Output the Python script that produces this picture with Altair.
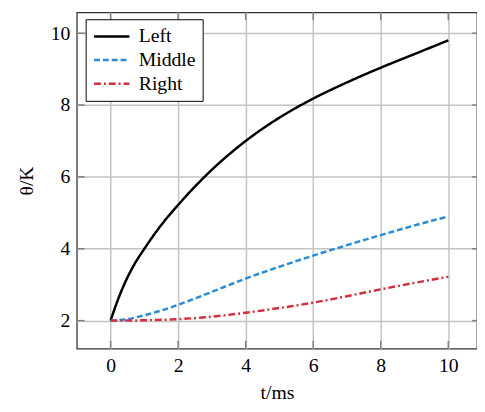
import altair as alt
import pandas as pd

# ---- data ----
series_names = ["Left", "Middle", "Right"]
t_left = [0, 0.2, 0.4, 0.7, 1, 1.5, 2, 3, 4, 5, 6, 7, 8, 9, 10]
left = [2, 2.54, 3.0, 3.56, 4.0, 4.66, 5.22, 6.2, 7.0, 7.65, 8.18, 8.63, 9.04, 9.42, 9.8]
t_mid = [0, 0.5, 1, 1.5, 2, 3, 4, 5, 6, 7, 8, 9, 10]
middle = [2, 2.04, 2.15, 2.28, 2.44, 2.8, 3.17, 3.5, 3.81, 4.1, 4.38, 4.65, 4.9]
t_right = [0, 1, 2, 3, 4, 5, 6, 7, 8, 9, 10]
right = [2, 2.01, 2.04, 2.11, 2.22, 2.35, 2.5, 2.68, 2.87, 3.05, 3.22]
x_ticks = [0, 2, 4, 6, 8, 10]
y_ticks = [2, 4, 6, 8, 10]
colors = ["#000000", "#2b8cd5", "#d12f3f"]
dashes = [[1, 0], [6, 3], [7, 3, 2, 3]]

rows = []
for name, ts, vs in zip(series_names, [t_left, t_mid, t_right], [left, middle, right]):
    for t, v in zip(ts, vs):
        rows.append({"t": t, "theta": v, "series": name})
df = pd.DataFrame(rows)
xt = pd.DataFrame({"t": x_ticks})
yt = pd.DataFrame({"theta": y_ticks})

W, H = 407, 342
FONT = "Liberation Serif"
xscale = alt.Scale(domain=[-1, 10.85], nice=False, zero=False)
yscale = alt.Scale(domain=[1.22, 10.58], nice=False, zero=False)
xaxis = alt.Axis(values=x_ticks, grid=True, titlePadding=8)
yaxis = alt.Axis(values=y_ticks, grid=True, titlePadding=14)


def xenc():
    return alt.X("t:Q", scale=xscale, title="t/ms", axis=xaxis)


def yenc():
    return alt.Y("theta:Q", scale=yscale, title="θ/K", axis=yaxis)


lines = alt.Chart(df).mark_line(strokeWidth=2.5, clip=True, interpolate="monotone").encode(
    x=xenc(),
    y=yenc(),
    color=alt.Color("series:N", scale=alt.Scale(domain=series_names, range=colors),
                    legend=alt.Legend(title=None)),
    strokeDash=alt.StrokeDash("series:N", scale=alt.Scale(domain=series_names, range=dashes),
                              legend=alt.Legend(title=None)),
    order=alt.Order("t:Q"),
)

tick_color = "#808080"
bottom = alt.Chart(xt).mark_rule(color=tick_color, strokeWidth=1.5).encode(
    x=xenc(), y=alt.value(H - 8), y2=alt.value(H))
top = alt.Chart(xt).mark_rule(color=tick_color, strokeWidth=1.5).encode(
    x=xenc(), y=alt.value(0), y2=alt.value(8))
leftt = alt.Chart(yt).mark_rule(color=tick_color, strokeWidth=1.5).encode(
    y=yenc(), x=alt.value(0), x2=alt.value(8))
rightt = alt.Chart(yt).mark_rule(color=tick_color, strokeWidth=1.5).encode(
    y=yenc(), x=alt.value(W - 5), x2=alt.value(W))

chart = alt.layer(lines, bottom, top, leftt, rightt).properties(
    width=W, height=H,
    autosize=alt.AutoSizeParams(type="none"),
    padding={"left": 70, "top": 1, "right": 0, "bottom": 60},
).configure_view(
    stroke="#333333", strokeWidth=1.3
).configure_axis(
    domain=False, ticks=False,
    gridColor="#c4c4c4", gridWidth=1.5,
    labelFont=FONT, labelFontSize=20, labelColor="black", labelPadding=7,
    titleFont=FONT, titleFontSize=20, titleFontWeight="normal", titleColor="black",
).configure_legend(
    orient="none", legendX=9, legendY=7,
    strokeColor="black", fillColor="white", padding=7,
    symbolType="M-1,0H3", symbolSize=324, symbolStrokeWidth=2.5,
    labelFont=FONT, labelFontSize=20, labelColor="black", labelOffset=26,
    rowPadding=3, cornerRadius=0,
)

chart.save("out.html", embed_options={"renderer": "svg", "actions": False})
